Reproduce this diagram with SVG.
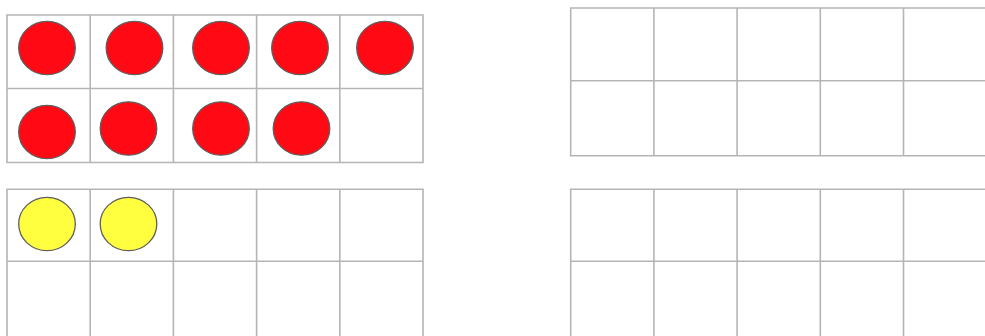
<svg xmlns="http://www.w3.org/2000/svg" width="985" height="336" viewBox="0 0 985 336">
<style>
.g{fill:none;stroke:#b5b5b5;stroke-width:1.6}
.r{fill:#ff0a14;stroke:#5e5e5e;stroke-width:1.3}
.y{fill:#ffff40;stroke:#5e5e5e;stroke-width:1.3}
</style>
<rect width="985" height="336" fill="#fff"/>
<g id="frame1">
<path class="g" d="M7,15H423V162.5H7Z M7,88.5H423 M90.2,15V162.5 M173.4,15V162.5 M256.6,15V162.5 M339.8,15V162.5"/>
<ellipse class="r" cx="47" cy="48" rx="28.3" ry="26.7"/>
<ellipse class="r" cx="134.5" cy="48" rx="28.3" ry="26.7"/>
<ellipse class="r" cx="221" cy="48" rx="28.3" ry="26.7"/>
<ellipse class="r" cx="300" cy="48" rx="28.3" ry="26.7"/>
<ellipse class="r" cx="385" cy="48" rx="28.3" ry="26.7"/>
<ellipse class="r" cx="47" cy="132" rx="28.3" ry="26.7"/>
<ellipse class="r" cx="128.5" cy="128.5" rx="28.3" ry="26.7"/>
<ellipse class="r" cx="221" cy="128.5" rx="28.3" ry="26.7"/>
<ellipse class="r" cx="301.5" cy="128.5" rx="28.3" ry="26.7"/>
</g>
<g id="frame2">
<path class="g" d="M7,338V189.3H423V338 M7,261.3H423 M90.2,189.3V338 M173.4,189.3V338 M256.6,189.3V338 M339.8,189.3V338"/>
<ellipse class="y" cx="47" cy="224" rx="28.3" ry="26.7"/>
<ellipse class="y" cx="128.5" cy="224" rx="28.3" ry="26.7"/>
</g>
<g id="frame3">
<path class="g" d="M990,8H570.7V155.7H990 M570.7,80.7H990 M653.9,8V155.7 M737.1,8V155.7 M820.3,8V155.7 M903.5,8V155.7"/>
</g>
<g id="frame4">
<path class="g" d="M990,189.3H570.7V338 M570.7,261.3H990 M653.9,189.3V338 M737.1,189.3V338 M820.3,189.3V338 M903.5,189.3V338"/>
</g>
</svg>
